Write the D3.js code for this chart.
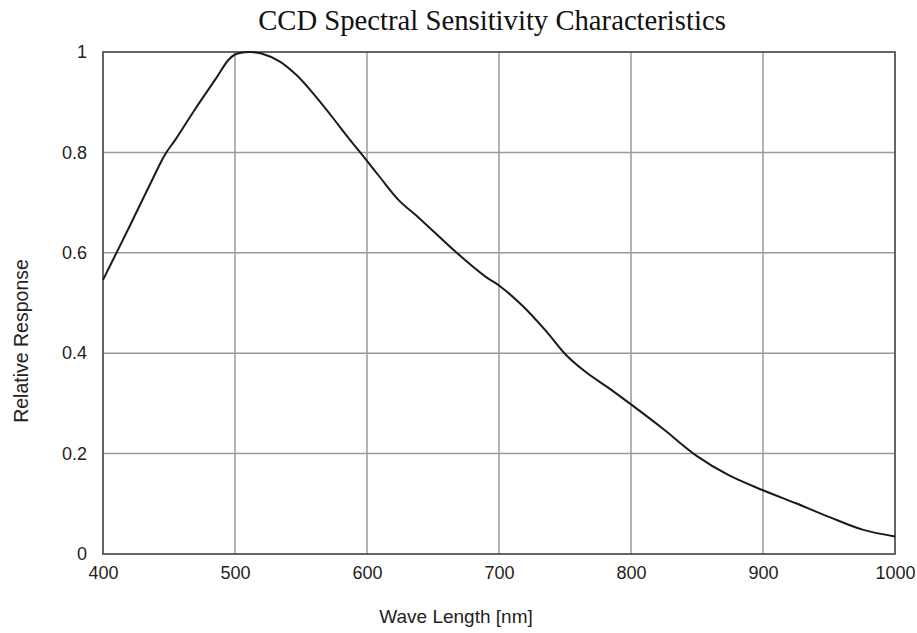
<!DOCTYPE html>
<html><head><meta charset="utf-8">
<script src="https://cdn.jsdelivr.net/npm/d3@7"></script>
<style>body{margin:0;background:#fff}svg{display:block}</style>
</head><body>
<script>
const wavelengths = [400,420,440,447,455,470,485,495,500,511,520,534,547,559,572,585,600,610,624,640,668,690,700,718,736,751,766,784,800,824,850,874,900,925,950,976,1000];
const response   = [0.546,0.652,0.76,0.796,0.826,0.887,0.945,0.984,0.995,1.0,0.997,0.981,0.953,0.918,0.876,0.832,0.783,0.75,0.705,0.668,0.6,0.552,0.535,0.494,0.443,0.396,0.362,0.329,0.298,0.25,0.195,0.157,0.127,0.101,0.074,0.048,0.035];
const xTicks = [400,500,600,700,800,900,1000];
const yTicks = [0,0.2,0.4,0.6,0.8,1];
const yTickLabels = ["0","0.2","0.4","0.6","0.8","1"];
const title = "CCD Spectral Sensitivity Characteristics";
const xTitle = "Wave Length [nm]";
const yTitle = "Relative Response";

const W=917,H=633;
const m={l:103,r:22,t:52,b:79};
const svg=d3.select("body").append("svg").attr("width",W).attr("height",H);
const x=d3.scaleLinear().domain([400,1000]).range([m.l,W-m.r]);
const y=d3.scaleLinear().domain([0,1]).range([H-m.b,m.t]);

const g=svg.append("g");
g.selectAll(".vg").data(xTicks.slice(1,-1)).join("line")
 .attr("x1",d=>x(d)).attr("x2",d=>x(d)).attr("y1",y(0)).attr("y2",y(1))
 .attr("stroke","#9a9a9a").attr("stroke-width",1.5);
g.selectAll(".hg").data(yTicks.slice(1,-1)).join("line")
 .attr("y1",d=>y(d)).attr("y2",d=>y(d)).attr("x1",x(400)).attr("x2",x(1000))
 .attr("stroke","#9a9a9a").attr("stroke-width",1.5);
g.append("rect").attr("x",x(400)).attr("y",y(1)).attr("width",x(1000)-x(400)).attr("height",y(0)-y(1))
 .attr("fill","none").attr("stroke","#555").attr("stroke-width",1.8);

const xa=svg.append("g").attr("transform",`translate(0,${y(0)})`)
 .call(d3.axisBottom(x).tickValues(xTicks).tickSize(0).tickPadding(12).tickFormat(d3.format("d")));
const ya=svg.append("g").attr("transform",`translate(${x(400)},0)`)
 .call(d3.axisLeft(y).tickValues(yTicks).tickSize(0).tickPadding(16).tickFormat((d,i)=>yTickLabels[i]));
[xa,ya].forEach(a=>{a.select(".domain").remove();a.selectAll("text").attr("font-family","Liberation Sans, Arial, sans-serif").attr("font-size",18).attr("fill","#222");});

svg.append("path").datum(wavelengths.map((w,i)=>[w,response[i]]))
 .attr("d",d3.line().x(d=>x(d[0])).y(d=>y(d[1])).curve(d3.curveCatmullRom.alpha(0.5)))
 .attr("fill","none").attr("stroke","#1a1a1a").attr("stroke-width",2);

svg.append("text").attr("x",492).attr("y",30).attr("text-anchor","middle")
 .attr("font-family","Liberation Serif, Times New Roman, serif").attr("font-size",28.7).attr("fill","#111").text(title);
svg.append("text").attr("x",456).attr("y",623).attr("text-anchor","middle")
 .attr("font-family","Liberation Sans, Arial, sans-serif").attr("font-size",19).attr("fill","#222").text(xTitle);
svg.append("text").attr("transform","translate(28,341) rotate(-90)").attr("text-anchor","middle")
 .attr("font-family","Liberation Sans, Arial, sans-serif").attr("font-size",19.5).attr("fill","#222").text(yTitle);
</script>
</body></html>
